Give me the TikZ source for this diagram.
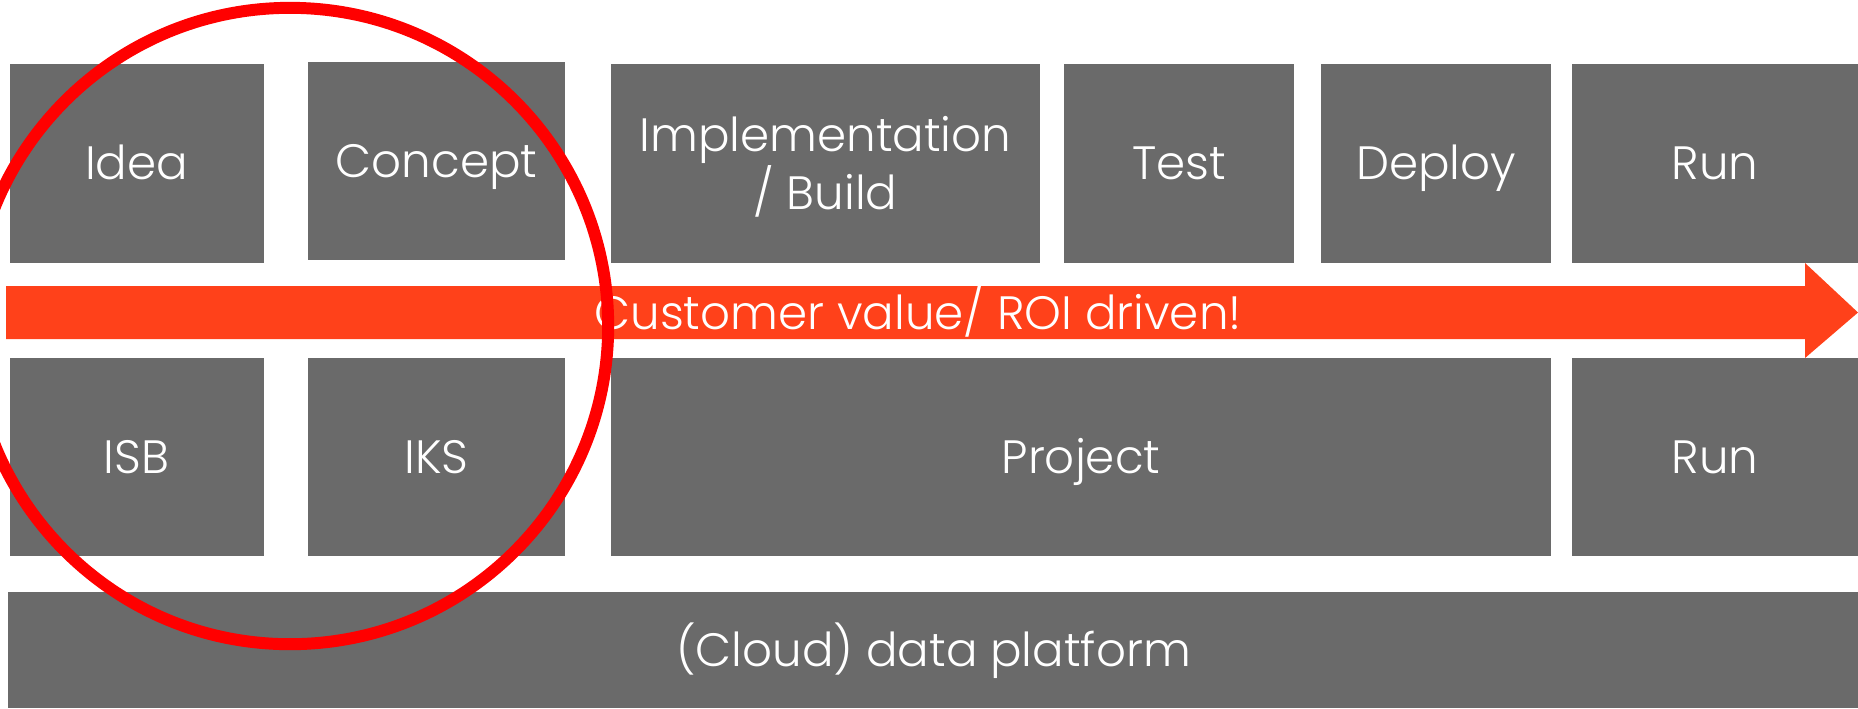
\documentclass[tikz,border=0pt]{standalone}
\usepackage{fontspec}
\setmainfont{Poppins}[UprightFont=* Light]
\usetikzlibrary{positioning}
\definecolor{boxgray}{HTML}{6A6A6A}
\definecolor{roiorange}{HTML}{FF411A}
\tikzset{
  phase/.style={fill=boxgray,text=white,inner sep=0pt,align=center,
    font=\fontsize{13.3}{16.5}\selectfont},
  oneline/.style={phase,text height=9.3pt,text depth=0pt},
  roitext/.style={text=white,inner sep=0pt,text height=9.3pt,text depth=0pt,
    font=\fontsize{13.3}{16.5}\selectfont},
}

\begin{document}
\begin{tikzpicture}[x=0.01cm,y=-0.01cm]
\useasboundingbox (0,0) rectangle (1858,708);

% top row
\foreach \name/\cx/\w/\txt in {idea/136.5/254/Idea,test/1179/230/Test,deploy/1436/230/Deploy,runtop/1715/286/Run}
  \node[oneline,minimum width=\w*0.01cm,minimum height=1.99cm] (\name) at (\cx,163.5) {\txt};
\node[oneline,minimum width=2.57cm,minimum height=1.98cm] (concept) at (436.5,161) {Concept};
\node[phase,minimum width=4.29cm,minimum height=1.99cm] (impl) at (825.5,163.5)
  {\rule{0pt}{12pt}Implementation\\/ Build};

% bottom row
\foreach \name/\cx/\w/\txt in {isb/136.5/254/ISB,iks/436.5/257/IKS,project/1081/940/Project,runbottom/1715/286/Run}
  \node[oneline,minimum width=\w*0.01cm,minimum height=1.98cm] (\name) at (\cx,457) {\txt};

\node[oneline,minimum width=18.49cm,minimum height=1.16cm] (platform) at (933.5,650) {(Cloud) data platform};

% value arrow
\fill[roiorange]
  (6,286) -- (1805,286) -- (1805,263) -- (1858,312.5) --
  (1805,358) -- (1805,339) -- (6,339) -- cycle;
\node[roitext] (roi) at (918,313) {Customer value/ ROI driven!};

\draw[red,line width=3.4pt] (290,326) circle[radius=3.18cm];
\end{tikzpicture}
\end{document}
